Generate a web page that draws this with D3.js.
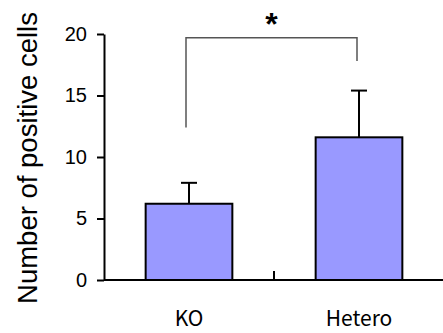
<!DOCTYPE html>
<meta charset="utf-8">
<script src="https://d3js.org/d3.v7.min.js"></script>
<style>
  body { margin: 0; background: #fff; }
</style>
<body>
<div id="chart"></div>
<script>
  // data
  var groups = ["KO", "Hetero"]
  var means = [6.2, 11.6]
  var errors = [1.7, 3.8]
  var yTicks = [0, 5, 10, 15, 20]

  var width = 443, height = 333
  var margin = {top: 34, right: -1, bottom: 53, left: 104}

  var svg = d3.select("#chart").append("svg")
    .attr("width", width)
    .attr("height", height)

  var x = d3.scaleBand()
    .domain(groups)
    .range([margin.left, width - margin.right])
    .paddingInner(0.49)
    .paddingOuter(0.245)

  var y = d3.scaleLinear()
    .domain([0, 20])
    .range([height - margin.bottom, margin.top])

  // y axis
  var yAxis = svg.append("g")
    .attr("transform", "translate(" + margin.left + ",0)")
    .call(d3.axisLeft(y).tickValues(yTicks).tickSize(7).tickSizeOuter(0).tickPadding(10))
  yAxis.select(".domain").attr("stroke-width", 2)
  yAxis.selectAll(".tick line").attr("stroke-width", 2)
  yAxis.selectAll("text")
    .style("font-family", "Liberation Sans, Arial, sans-serif")
    .style("font-size", "20px")
    .attr("fill", "#000")

  // y label
  svg.append("text")
    .attr("transform", "translate(37," + 158 + ") rotate(-90)")
    .attr("text-anchor", "middle")
    .style("font-family", "Liberation Sans, Arial, sans-serif")
    .style("font-size", "27.5px")
    .text("Number of positive cells")

  // bars
  svg.selectAll(".bar")
    .data(groups)
    .enter().append("rect")
    .attr("class", "bar")
    .attr("x", function(d) { return x(d) })
    .attr("width", x.bandwidth())
    .attr("y", function(d, i) { return y(means[i]) })
    .attr("height", function(d, i) { return y(0) - y(means[i]) })
    .attr("fill", "#9999ff")
    .attr("stroke", "#000")
    .attr("stroke-width", 2)

  // error bars (upper only)
  var cap = 8
  groups.forEach(function(g, i) {
    var cx = x(g) + x.bandwidth() / 2
    svg.append("line")
      .attr("x1", cx).attr("x2", cx)
      .attr("y1", y(means[i])).attr("y2", y(means[i] + errors[i]))
      .attr("stroke", "#000").attr("stroke-width", 2)
    svg.append("line")
      .attr("x1", cx - cap).attr("x2", cx + cap)
      .attr("y1", y(means[i] + errors[i])).attr("y2", y(means[i] + errors[i]))
      .attr("stroke", "#000").attr("stroke-width", 2)
  })

  // x axis baseline with tick between groups
  var x0 = margin.left, x1 = width - margin.right
  svg.append("line")
    .attr("x1", x0).attr("x2", x1)
    .attr("y1", y(0)).attr("y2", y(0))
    .attr("stroke", "#000").attr("stroke-width", 2)
  var mid = (x(groups[0]) + x.bandwidth() + x(groups[1])) / 2
  svg.append("line")
    .attr("x1", mid).attr("x2", mid)
    .attr("y1", y(0)).attr("y2", y(0) - 9)
    .attr("stroke", "#000").attr("stroke-width", 2)

  // x labels
  svg.selectAll(".xlab")
    .data(groups)
    .enter().append("text")
    .attr("x", function(d) { return x(d) + x.bandwidth() / 2 })
    .attr("y", 326)
    .attr("text-anchor", "middle")
    .style("font-family", "Noto Sans CJK JP, sans-serif")
    .style("font-size", "21px")
    .text(function(d) { return d })

  // significance bracket
  var bl = x(groups[0]) + x.bandwidth() / 2 - 3
  var br = x(groups[1]) + x.bandwidth() / 2 - 2
  svg.append("path")
    .attr("d", "M" + bl + "," + y(12.4) + "V" + y(19.7) + "H" + br + "V" + y(17.8))
    .attr("fill", "none")
    .attr("stroke", "#555")
    .attr("stroke-width", 1.5)

  svg.append("text")
    .attr("x", (bl + br) / 2)
    .attr("y", 35)
    .attr("text-anchor", "middle")
    .style("font-family", "Liberation Sans, Arial, sans-serif")
    .style("font-size", "32px")
    .style("font-weight", "bold")
    .text("*")
</script>
</body>
